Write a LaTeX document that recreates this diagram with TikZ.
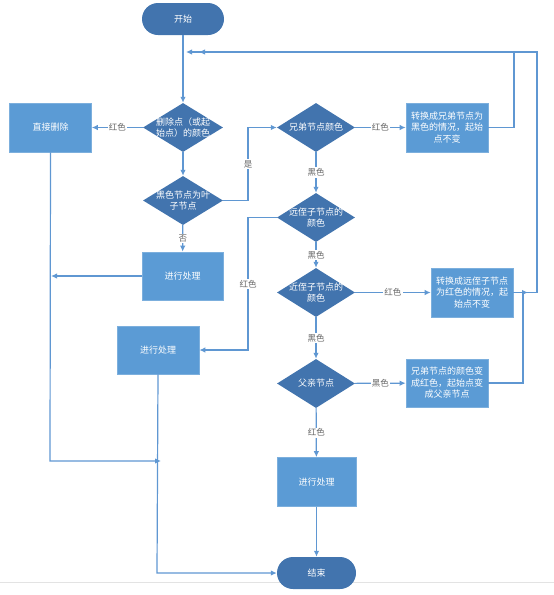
\documentclass[tikz,border=0pt]{standalone}
\usepackage{fontspec}
\newfontfamily\cjk{Noto Sans CJK SC}
\usetikzlibrary{shapes.geometric,arrows.meta}
\definecolor{darkblue}{HTML}{4274AE}
\definecolor{boxblue}{HTML}{5B9BD5}
\definecolor{linecol}{HTML}{5F97D2}
\definecolor{labgray}{HTML}{666666}
\tikzset{
  base/.style={font=\cjk\fontsize{9}{11.5}\selectfont, text=white, align=center, inner sep=0pt},
  pill/.style={base, fill=darkblue, rounded corners=16pt, minimum width=82pt, minimum height=32pt},
  dia/.style={diamond, fill=darkblue, inner sep=0pt, minimum width=80pt, minimum height=49pt},
  dtext/.style={base},
  procbox/.style={base, fill=boxblue, draw=boxblue!80!white, line width=0.6pt, minimum width=82pt, minimum height=49pt},
  conn/.style={draw=linecol, line width=1.2pt, -{Latex[length=6pt,width=5.5pt]}},
  lab/.style={font=\cjk\fontsize{8.5}{10}\selectfont, text=labgray, fill=white, inner sep=1.2pt},
}
\begin{document}
\begin{tikzpicture}[x=1pt,y=-1pt]
\useasboundingbox (0,0) rectangle (554,595);
\draw[gray!22, line width=1pt] (0,582) -- (554,582);

% nodes
\node[pill] (start) at (183,19) {开始};
\node[dia, label={[dtext]center:{删除点（或起\\始点）的颜色}}] (d1) at (183,127.5) {};
\node[procbox] (direct) at (50.5,127.5) {直接删除};
\node[dia, label={[dtext]center:{黑色节点为叶\\子节点}}] (d2) at (183,200.5) {};
\node[procbox, minimum width=81pt, minimum height=48pt] (box1) at (182.5,276) {进行处理};
\node[procbox, minimum height=48pt] (box2) at (158,350) {进行处理};
\node[dia, minimum width=78pt, label={[dtext]center:{兄弟节点颜色}}] (dB) at (316,127.5) {};
\node[procbox] (r1) at (447,127.5) {转换成兄弟节点为\\黑色的情况，起始\\点不变};
\node[dia, minimum width=78pt, label={[dtext]center:{远侄子节点的\\颜色}}] (dFar) at (316,217.5) {};
\node[dia, minimum width=78pt, label={[dtext]center:{近侄子节点的\\颜色}}] (dNear) at (316,292.5) {};
\node[procbox] (r2) at (472,292.5) {转换成远侄子节点\\为红色的情况，起\\始点不变};
\node[dia, minimum width=78pt, label={[dtext]center:{父亲节点}}] (dF) at (316,383.5) {};
\node[procbox, minimum height=48pt] (r3) at (447,383) {兄弟节点的颜色变\\成红色，起始点变\\成父亲节点};
\node[procbox, minimum width=79pt] (box3) at (316.5,482) {进行处理};
\node[pill, minimum width=79pt] (end) at (316.5,573) {结束};

% junction coordinates
\coordinate (jA) at (186,52);
\coordinate (jB) at (199,52);
\coordinate (jL) at (51,276);
\coordinate (jM) at (161,461);
\coordinate (jN) at (528,292.5);

% connectors
\draw[conn] (start) -- (d1);
\draw[conn] (d1) -- node[lab, pos=0.5]{红色} (direct);
\draw[conn] (d1) -- (d2);
\draw[conn] (d2.east) -- (248,200.5) -- node[lab, pos=0.5]{是} (248,127.5) -- (dB.west);
\draw[conn] (d2) -- node[lab, pos=0.5]{否} (box1);
\draw[conn] (box1.west) -- (jL);
\draw[conn] (direct.south) -- (50,461) -- (jM);
\draw[conn] (box2.south) -- (157,573) -- (end.west);
\draw[conn] (dB) -- node[lab]{红色} (r1);
\draw[conn] (dB) -- node[lab]{黑色} (dFar);
\draw[conn] (dFar.west) -- (248,217.5) -- node[lab]{红色} (248,350) -- (box2.east);
\draw[conn] (dFar) -- node[lab]{黑色} (dNear);
\draw[conn] (dNear) -- node[lab]{红色} (r2);
\draw[conn] (dNear) -- node[lab]{黑色} (dF);
\draw[conn] (dF) -- node[lab]{黑色} (r3);
\draw[conn] (dF) -- node[lab]{红色} (box3);
\draw[conn] (box3) -- (end);
\draw[conn] (r1.east) -- (514,127.5) -- (514,52) -- (jA);
\draw[conn] (r2.east) -- (537,292.5) -- (537,52) -- (jB);
\draw[conn] (r3.east) -- (523,383) -- (523,292.5) -- (jN);
\end{tikzpicture}
\end{document}
